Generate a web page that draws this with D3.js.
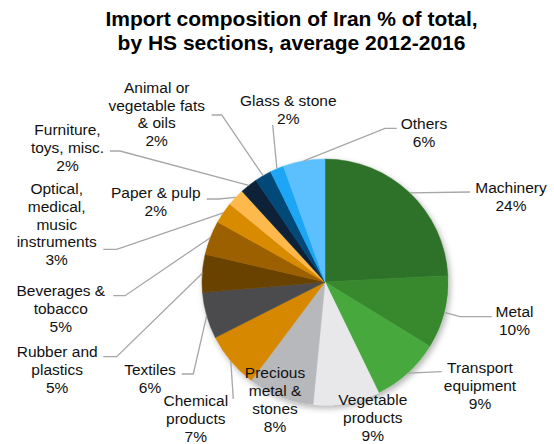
<!DOCTYPE html>
<html>
<head>
<meta charset="utf-8">
<script src="https://cdn.jsdelivr.net/npm/d3@7"></script>
<style>
  body { margin: 0; background: #fff; }
  svg { display: block; font-family: "Liberation Sans", Arial, sans-serif; }
  .title { font-weight: bold; font-size: 21px; fill: #000; }
  .lbl { font-size: 15.5px; fill: #111; }
  .lead { fill: none; stroke: #a6a6a6; stroke-width: 1.3; }
</style>
</head>
<body>
<div id="chart"></div>
<script>
var svgWidth = 554;
var svgHeight = 444;

// Data (share of total, %)
var categories = [
  "Machinery", "Metal", "Transport\nequipment", "Vegetable\nproducts",
  "Precious\nmetal &\nstones", "Chemical\nproducts", "Textiles", "Rubber and\nplastics",
  "Beverages &\ntobacco", "Optical,\nmedical,\nmusic\ninstruments", "Paper & pulp",
  "Furniture,\ntoys, misc.", "Animal or\nvegetable fats\n& oils", "Glass & stone", "Others"
];
var values = [24.2, 9.6, 9.05, 8.75, 8.7, 7.3, 6.1, 5.0, 4.5, 2.8, 2.3, 2.3, 2.2, 1.8, 5.5];
var pctLabels = ["24%", "10%", "9%", "9%", "8%", "7%", "6%", "5%", "5%", "3%", "2%", "2%", "2%", "2%", "6%"];
var colors = [
  "#2e7229", "#37892f", "#46a83c", "#e8e8ea", "#b7b8bb", "#d68900", "#4b4b4d", "#6a4301",
  "#9c6100", "#d98b05", "#fdb94b", "#0b2338", "#054a78", "#1aa6f5", "#5cc0ff"
];

// label placement: centre x, first baseline, leader points from the label towards the pie
var layout = [
  { x: 511, y: 193, lead: [[470, 192]] },
  { x: 514.5, y: 317, lead: [[491.7, 316.7], [460, 316.7]] },
  { x: 480, y: 373, lead: [[441.7, 371.7]] },
  { x: 372.8, y: 405, lead: [] },
  { x: 275, y: 378.3, lead: [] },
  { x: 195.8, y: 406, lead: [[233.3, 399]] },
  { x: 150, y: 375, lead: [[181.7, 374], [193.3, 374]] },
  { x: 57.2, y: 357, lead: [[103.3, 356.7], [116.7, 356.7]] },
  { x: 60.8, y: 296, lead: [[113.3, 295.7], [125, 295.7]] },
  { x: 56.7, y: 194, lead: [[103.3, 249.3], [116.7, 249.3]] },
  { x: 155.8, y: 198, lead: [[206.7, 199], [218.3, 199]] },
  { x: 67.5, y: 135, lead: [[110, 151], [120, 151]] },
  { x: 156.7, y: 92.7, lead: [[211.7, 115], [221.7, 115]] },
  { x: 288.3, y: 106, lead: [[272.7, 125]] },
  { x: 424, y: 129.3, lead: [[396.7, 128.3], [385, 128.3]] }
];

var cx = 325, cy = 282, radius = 123;
var lineH = 17.8;

var svg = d3.select("#chart")
  .append("svg")
  .attr("width", svgWidth)
  .attr("height", svgHeight);

// soft shadow under the pie
var defs = svg.append("defs");
var filt = defs.append("filter").attr("id", "shadow")
  .attr("x", "-20%").attr("y", "-20%").attr("width", "140%").attr("height", "140%");
filt.append("feDropShadow")
  .attr("dx", 2).attr("dy", 3).attr("stdDeviation", 3)
  .attr("flood-color", "#000").attr("flood-opacity", 0.3);

// Title
var title = svg.append("text").attr("class", "title").attr("text-anchor", "middle");
title.append("tspan").attr("x", 291.5).attr("y", 26).text("Import composition of Iran % of total,");
title.append("tspan").attr("x", 291.5).attr("y", 50).text("by HS sections, average 2012-2016");

var pie = d3.pie().sort(null).value(d => d);
var arcs = pie(values);
var arc = d3.arc().innerRadius(0).outerRadius(radius);

var pieGroup = svg.append("g")
  .attr("transform", `translate(${cx}, ${cy})`);

pieGroup.append("g")
  .attr("filter", "url(#shadow)")
  .selectAll("path")
  .data(arcs)
  .enter()
  .append("path")
  .attr("d", arc)
  .attr("fill", (d, i) => colors[i])
  .attr("stroke", (d, i) => colors[i])
  .attr("stroke-width", 0.5);

// Leader lines: label end -> elbow -> slice mid point on the rim
arcs.forEach(function(d, i) {
  var pts = layout[i].lead.slice();
  if (!pts.length) return;
  var a = (d.startAngle + d.endAngle) / 2;
  pts.push([cx + radius * Math.sin(a), cy - radius * Math.cos(a)]);
  svg.append("path")
    .attr("class", "lead")
    .attr("d", d3.line()(pts));
});

// Labels
categories.forEach(function(name, i) {
  var lines = name.split("\n").concat([pctLabels[i]]);
  var t = svg.append("text")
    .attr("class", "lbl")
    .attr("text-anchor", "middle");
  lines.forEach(function(s, k) {
    t.append("tspan")
      .attr("x", layout[i].x)
      .attr("y", layout[i].y + k * lineH)
      .text(s);
  });
});
</script>
</body>
</html>
